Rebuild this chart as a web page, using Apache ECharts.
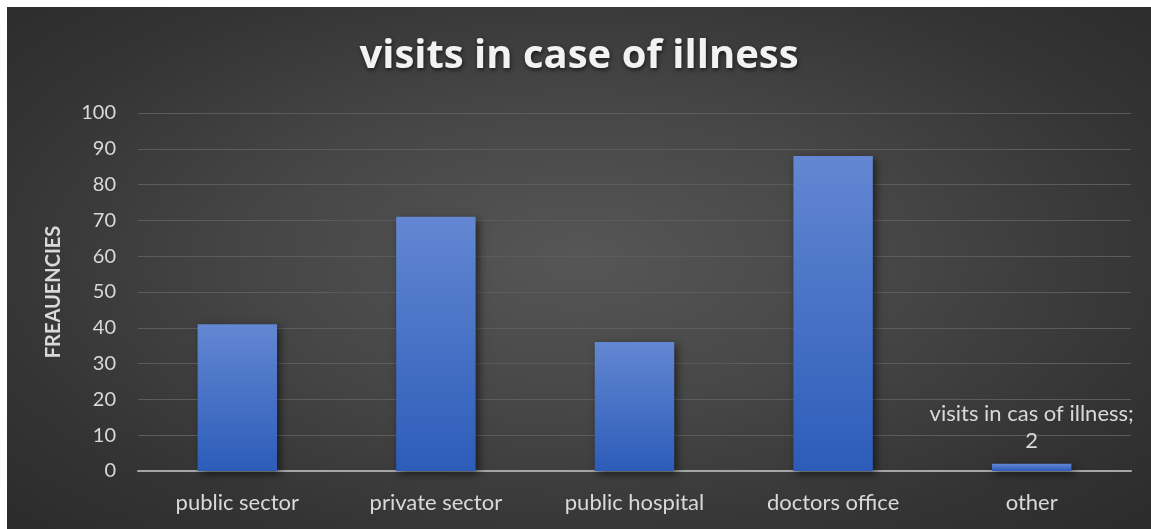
<!DOCTYPE html>
<html>
<head>
<meta charset="utf-8">
<script src="https://cdn.jsdelivr.net/npm/echarts@6/dist/echarts.min.js"></script>
<style>
html,body{margin:0;padding:0;background:#fff;width:1151px;height:529px;overflow:hidden;}
#c{position:absolute;left:7px;top:7px;width:1144px;height:522px;
background:radial-gradient(ellipse 70% 75% at 50% 48%, #565656 0%, #464646 40%, #343434 75%, #2b2b2b 100%);}
</style>
</head>
<body>
<div id="c"></div>
<script>
var titleText = 'visits in case of illness';
var yAxisName = 'FREAUENCIES';
var seriesName = 'visits in cas of illness';
var categories = ['public sector', 'private sector', 'public hospital', 'doctors office', 'other'];
var values = [41, 71, 36, 88, 2];
var labelledIndex = 4;

var chart = echarts.init(document.getElementById('c'), null, {renderer: 'canvas'});
var font = "Lato, 'Open Sans', 'DejaVu Sans', sans-serif";
var data = values.map(function (v, i) {
  var d = {value: v};
  if (i === labelledIndex) {
    d.label = {
      show: true, position: 'top', distance: 9,
      formatter: seriesName + ';\n' + v,
      color: '#d9d9d9', fontSize: 22, lineHeight: 27, fontFamily: font
    };
  }
  return d;
});
chart.setOption({
  backgroundColor: 'transparent',
  animation: false,
  title: {
    text: titleText, left: 'center', top: 25,
    textStyle: {
      color: '#f2f2f2', fontSize: 40, fontWeight: 'bold', fontFamily: "'Open Sans', Lato, sans-serif",
      textShadowColor: 'rgba(0,0,0,0.6)', textShadowBlur: 4, textShadowOffsetX: 1, textShadowOffsetY: 2
    }
  },
  grid: {left: 131, right: 20, top: 106, bottom: 58},
  xAxis: {
    type: 'category', data: categories,
    axisLine: {lineStyle: {color: '#a6a6a6', width: 2}},
    axisTick: {show: false},
    axisLabel: {color: '#d9d9d9', fontSize: 22, fontFamily: font, margin: 21}
  },
  yAxis: {
    type: 'value', min: 0, max: 100, interval: 10,
    name: yAxisName, nameLocation: 'middle', nameGap: 74, nameRotate: 90,
    nameTextStyle: {color: '#d9d9d9', fontSize: 20, fontWeight: 'bold', fontFamily: font},
    axisLine: {show: false}, axisTick: {show: false},
    axisLabel: {color: '#d9d9d9', fontSize: 20, fontFamily: font, margin: 22},
    splitLine: {lineStyle: {color: '#5c5c5c', width: 1}}
  },
  series: [{
    type: 'bar', name: seriesName, data: data, barWidth: '40%',
    itemStyle: {
      color: new echarts.graphic.LinearGradient(0, 0, 0, 1, [
        {offset: 0, color: '#6387d2'},
        {offset: 1, color: '#2c5cb9'}
      ]),
      shadowColor: 'rgba(0,0,0,0.55)', shadowBlur: 8, shadowOffsetX: 3, shadowOffsetY: 3
    },
    label: {show: false}
  }]
});
</script>
</body>
</html>
